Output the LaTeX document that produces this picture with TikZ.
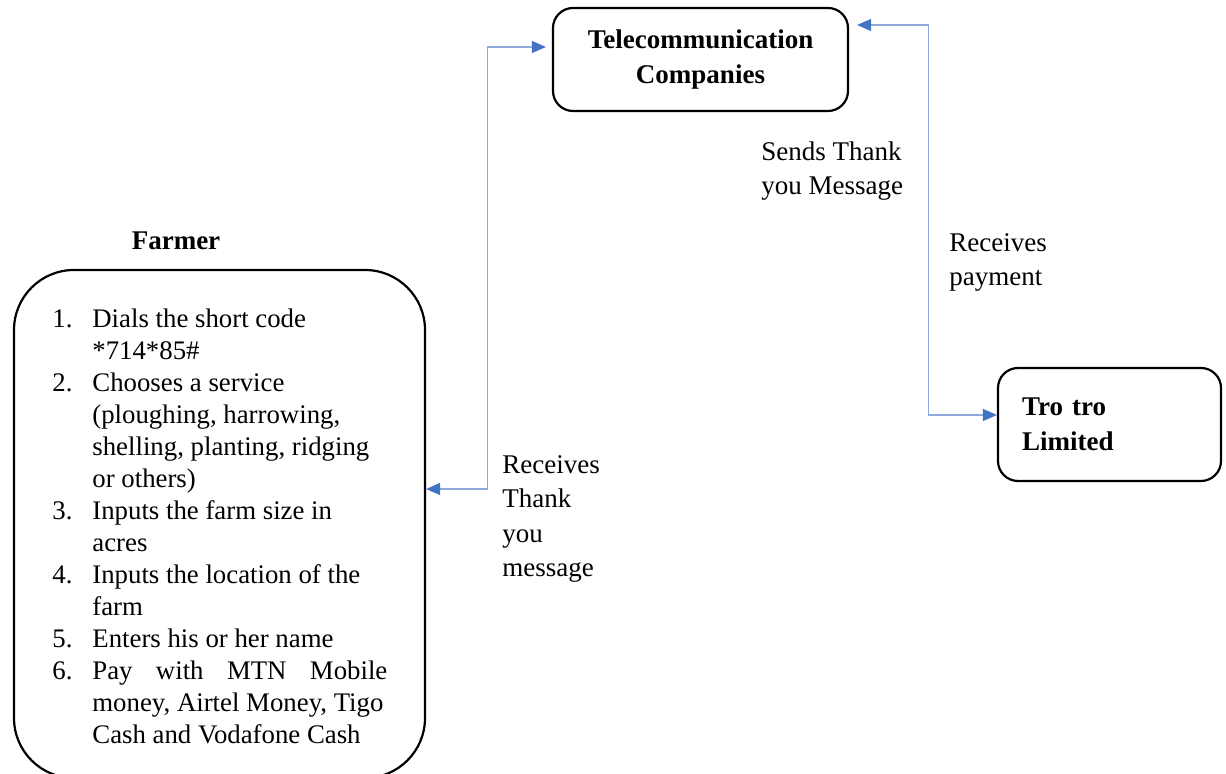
\documentclass[tikz,border=0pt]{standalone}
\usepackage{fontspec}
\setmainfont{Liberation Serif}
\usetikzlibrary{arrows.meta,positioning}
\definecolor{linkblue}{RGB}{68,114,196}
\definecolor{linkpale}{RGB}{142,169,219}
\newcounter{stepno}
\newenvironment{steplist}{%
  \spaceskip=0pt \xspaceskip=0pt
  \begin{list}{\arabic{stepno}.}{\usecounter{stepno}%
    \setlength\leftmargin{20pt}\setlength\labelwidth{20pt}%
    \setlength\labelsep{0pt}\setlength\itemsep{0pt}%
    \setlength\parsep{0pt}\setlength\topsep{0pt}\setlength\partopsep{0pt}%
    \renewcommand\makelabel[1]{##1\hfil}}}%
  {\end{list}}
\tikzset{
      stagebox/.style={
        draw,
        line width=1.1pt,
        rounded corners=10pt,
        font=\bfseries\fontsize{13.5}{17.5}\selectfont
      },
      notetext/.style={
        font=\fontsize{13.5}{17.25}\selectfont,
        align=left,
        inner sep=0pt,
        anchor=north west
      },
      linkarrow/.style={
        <->,
        >={Triangle[length=7pt,width=6pt,color=linkblue]},
        draw=linkpale,
        line width=0.6pt
      }
    }
\begin{document}
\begin{tikzpicture}[x=0.5pt,y=-0.5pt]
    \useasboundingbox (0,0) rectangle (1226,774);
    \node[stagebox, minimum width=147.5pt, minimum height=51.5pt, align=center] (telecom) at (700.5,59.5) {Telecommunication\\Companies};
    \node[stagebox, minimum height=56.5pt, text width=87.5pt, inner xsep=12pt, align=left] (trotro) at (1109.5,424.5) {Tro tro\\Limited};
    \node[font=\bfseries\fontsize{13.5}{16}\selectfont] (farmerlabel) at (176,241) {Farmer};
    \node[draw, line width=1.1pt, rounded corners=30pt, minimum width=205.5pt, minimum height=254pt] (farmer) at (219.5,524) {};
    \node[font=\fontsize{13.4}{16}\selectfont, text width=175pt, align=left, inner sep=0pt, anchor=north west] (steps) at (52,295) {%
      \begin{steplist}
        \item Dials the short code\\ {*}714*85\#
        \item Chooses a service\\ (ploughing, harrowing,\\ shelling, planting, ridging\\ or others)
        \item Inputs the farm size in\\ acres
        \item Inputs the location of the\\ farm
        \item Enters his or her name
        \item \makebox[147.5pt][s]{Pay with MTN Mobile}\\ money, Airtel Money, Tigo\\ Cash and Vodafone Cash
      \end{steplist}};
    \node[notetext] (sendsnote) at (761,141) {Sends Thank\\you Message};
    \node[notetext] (paynote) at (949,233) {Receives\\payment};
    \node[notetext] (thanknote) at (502,455) {Receives\\Thank\\you\\message};
    % farmer <-> telecom, telecom <-> tro tro
    \draw[linkarrow] ([yshift=17.5pt]farmer.east) -- ++(61.5,0) |- ([xshift=-3pt,yshift=6.25pt]telecom.west);
    \draw[linkarrow] ([xshift=4pt,yshift=17.25pt]telecom.east) -- ++(71,0) |- ([yshift=4.75pt]trotro.west);
    \end{tikzpicture}
\end{document}
